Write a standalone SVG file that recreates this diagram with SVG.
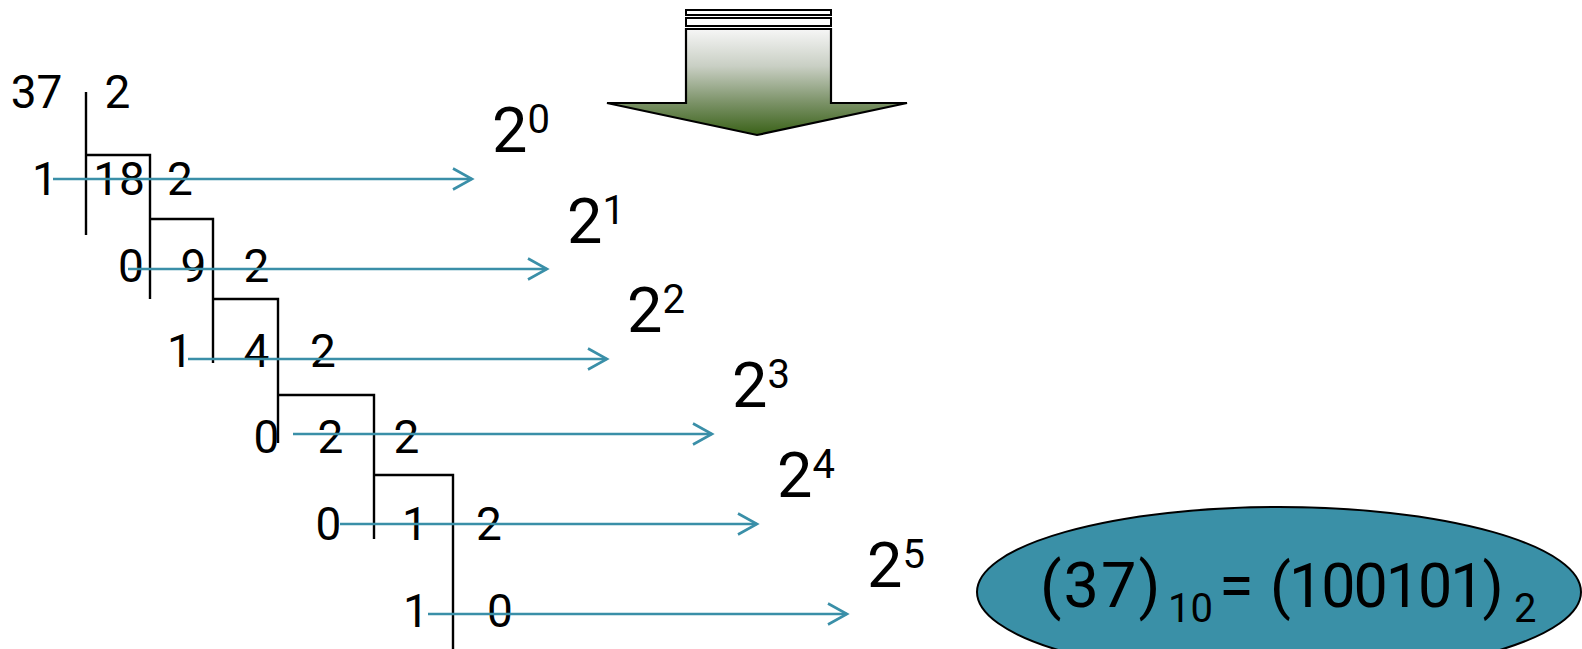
<svg xmlns="http://www.w3.org/2000/svg" width="1582" height="649" viewBox="0 0 1582 649">
<style>
.t{font-family:Roboto,"Open Sans","Liberation Sans",sans-serif;fill:#000}
.d{font-size:46px;text-anchor:middle}
.p{font-size:63px}
.s{font-size:40px}
.ln{stroke:#000;stroke-width:2.4;fill:none}
.ar{stroke:#3a8fa8;stroke-width:2.6;fill:none;marker-end:url(#ah)}
</style>
<defs>
<marker id="ah" markerUnits="userSpaceOnUse" markerWidth="26" markerHeight="28" viewBox="-23 -14 26 28" refX="0" refY="0" orient="auto">
<path d="M-19,-10.5 L0,0 L-19,10.5" fill="none" stroke="#3a8fa8" stroke-width="2.6"/>
</marker>
<linearGradient id="g" gradientUnits="userSpaceOnUse" x1="0" y1="29" x2="0" y2="135">
<stop offset="0" stop-color="#f6f6f6"/>
<stop offset="0.35" stop-color="#c9cfc4"/>
<stop offset="0.7" stop-color="#7a9166"/>
<stop offset="1" stop-color="#3a6218"/>
</linearGradient>
</defs>

<g id="big-arrow">
<rect x="686" y="10" width="145" height="5" fill="#fff" stroke="#000" stroke-width="2"/>
<rect x="686" y="18" width="145" height="8" fill="#fff" stroke="#000" stroke-width="2"/>
<polygon points="686,29 831,29 831,103 907,103 757,135 607,103 686,103" fill="url(#g)" stroke="#000" stroke-width="2.2"/>
</g>

<g id="division-lines">
<path class="ln" d="M86,92 V235 M86,155 H150 V299 M150,219 H213 V363 M213,299 H278 V443 M278,395 H374 V539 M374,475 H453 V649"/>
</g>

<g id="division-numbers" class="t d">
<text x="36.5" y="108">37</text>
<text x="117.5" y="108">2</text>
<text x="45" y="195">1</text>
<text x="119" y="195">18</text>
<text x="180" y="195">2</text>
<text x="131" y="282">0</text>
<text x="193.5" y="282">9</text>
<text x="256.5" y="282">2</text>
<text x="180" y="367">1</text>
<text x="256.5" y="367">4</text>
<text x="323" y="367">2</text>
<text x="266.5" y="453">0</text>
<text x="330.5" y="453">2</text>
<text x="406.5" y="453">2</text>
<text x="328.5" y="540">0</text>
<text x="415" y="540">1</text>
<text x="489" y="540">2</text>
<text x="416" y="627">1</text>
<text x="500" y="627">0</text>
</g>

<g id="connectors">
<line class="ar" x1="53" y1="179" x2="472" y2="179"/>
<line class="ar" x1="128" y1="269" x2="547" y2="269"/>
<line class="ar" x1="188" y1="359" x2="607" y2="359"/>
<line class="ar" x1="293" y1="434" x2="712" y2="434"/>
<line class="ar" x1="340" y1="524" x2="757" y2="524"/>
<line class="ar" x1="428" y1="614" x2="847" y2="614"/>
</g>

<g id="powers" class="t p">
<text id="p0" x="492" y="152">2<tspan class="s" dy="-19">0</tspan></text>
<text id="p1" x="567" y="243">2<tspan class="s" dy="-19">1</tspan></text>
<text id="p2" x="627" y="332">2<tspan class="s" dy="-19">2</tspan></text>
<text id="p3" x="732" y="407">2<tspan class="s" dy="-19">3</tspan></text>
<text id="p4" x="777" y="497">2<tspan class="s" dy="-19">4</tspan></text>
<text id="p5" x="867" y="587">2<tspan class="s" dy="-19">5</tspan></text>
</g>

<g id="result">
<ellipse cx="1279" cy="592" rx="302" ry="85" fill="#3a90a7" stroke="#000" stroke-width="2"/>
<g class="t">
<text x="1040" y="607" class="p" letter-spacing="2">(37)</text>
<text x="1168" y="622" class="s">10</text>
<text x="1219" y="607" class="p">=</text>
<text x="1270" y="607" class="p" style="font-size:61px" letter-spacing="-2">(100101)</text>
<text x="1514" y="622" class="s">2</text>
</g>
</g>
</svg>
